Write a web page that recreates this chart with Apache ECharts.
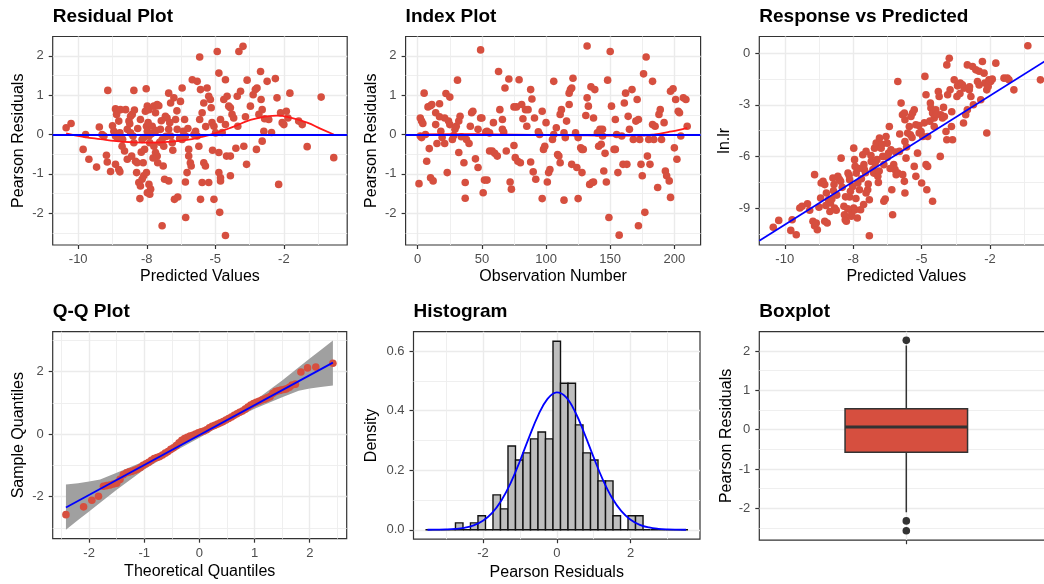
<!DOCTYPE html>
<html><head><meta charset="utf-8">
<script src="https://cdn.jsdelivr.net/npm/echarts@6/dist/echarts.min.js"></script>
<style>html,body{margin:0;padding:0;background:#fff}#c{width:1044px;height:584px}</style>
</head><body><div id="c"></div>
<script>
// ---------------- DATA ----------------
const panelTitles = ['Residual Plot','Index Plot','Response vs Predicted','Q-Q Plot','Histogram','Boxplot'];

// Residual plot: [predicted, pearson residual]
const residualPoints = [[-10.44,0.17],[-10.26,0.28],[-9.73,0.00],[-9.82,-0.38],[-9.61,-0.63],[-9.33,-0.83],[-9.23,0.19],[-9.13,0.00],[-9.06,-0.04],[-8.92,1.12],[-8.97,-0.53],[-8.94,-0.70],[-8.82,-0.94],[-8.64,-0.76],[-8.52,-0.89],[-8.48,-0.95],[-8.64,0.65],[-8.58,0.59],[-8.60,0.51],[-8.52,0.34],[-8.46,0.63],[-8.27,0.63],[-8.70,0.08],[-8.64,-0.04],[-8.58,-0.08],[-8.48,0.04],[-8.40,-0.30],[-8.31,-0.42],[-8.21,-0.63],[-8.15,0.34],[-8.09,0.46],[-8.03,0.51],[-8.21,0.13],[-8.09,0.04],[-8.00,-0.04],[-7.97,-0.21],[-7.97,1.12],[-7.91,-0.68],[-7.85,-0.72],[-7.87,-0.97],[-7.79,-1.22],[-7.73,-1.31],[-7.75,-1.63],[-7.67,-1.14],[-7.61,-1.05],[-7.51,-0.97],[-7.73,0.38],[-7.67,-0.13],[-7.61,-0.08],[-7.55,0.59],[-7.48,0.72],[-7.42,0.63],[-7.51,0.21],[-7.48,0.08],[-7.42,-0.04],[-7.39,-0.21],[-7.52,1.16],[-7.42,-1.27],[-7.36,-1.39],[-7.48,-1.48],[-7.39,-1.52],[-7.24,0.72],[-7.18,0.55],[-7.30,0.21],[-7.24,-0.30],[-7.18,-0.46],[-7.12,-0.55],[-7.10,-0.72],[-7.12,0.76],[-7.06,0.73],[-7.00,0.13],[-6.94,-0.13],[-6.88,-0.30],[-6.90,-0.80],[-6.85,-1.14],[-6.94,-2.32],[-6.82,0.46],[-6.76,0.42],[-6.70,0.13],[-6.63,-0.04],[-6.57,-0.21],[-6.70,-1.18],[-6.70,1.05],[-6.63,0.80],[-6.51,0.93],[-6.45,0.38],[-6.39,0.13],[-6.27,0.84],[-6.21,-0.13],[-6.09,-0.04],[-6.49,-1.65],[-6.37,-1.59],[-6.21,1.18],[-6.17,0.08],[-6.12,0.38],[-6.09,-1.21],[-6.08,-2.11],[-6.03,-0.97],[-5.97,-0.55],[-5.97,-0.38],[-5.91,-0.72],[-5.84,1.39],[-5.66,1.35],[-5.57,1.97],[-5.54,1.14],[-5.78,0.00],[-5.72,0.08],[-5.66,-0.04],[-5.60,-0.30],[-5.54,-1.65],[-5.48,-1.22],[-5.42,-0.72],[-5.36,-0.80],[-5.57,0.38],[-5.48,0.55],[-5.42,0.80],[-5.30,1.18],[-5.24,0.97],[-5.24,-1.22],[-5.18,0.89],[-5.15,0.68],[-5.12,0.30],[-5.05,0.21],[-5.05,-1.65],[-4.99,0.04],[-4.93,2.11],[-4.87,1.56],[-4.81,0.38],[-4.87,-0.46],[-4.87,-0.97],[-4.81,-1.10],[-4.81,-1.18],[-4.84,-1.98],[-4.69,0.89],[-4.63,0.25],[-4.63,-2.57],[-4.63,1.39],[-4.57,0.97],[-4.59,-0.55],[-4.51,0.72],[-4.45,0.68],[-4.45,-0.55],[-4.45,-1.05],[-4.39,0.51],[-4.33,0.42],[-4.20,0.97],[-4.14,2.11],[-4.08,1.10],[-3.99,2.24],[-4.18,0.21],[-3.96,-0.30],[-3.86,-0.76],[-3.84,1.38],[-3.72,0.72],[-3.62,1.01],[-3.54,1.14],[-3.48,1.18],[-3.41,0.51],[-3.50,-0.38],[-3.35,1.60],[-3.33,0.89],[-3.29,0.63],[-3.29,-0.17],[-3.23,0.08],[-3.11,1.35],[-3.05,0.38],[-2.81,1.42],[-2.75,0.93],[-2.69,-1.27],[-2.62,0.55],[-2.56,0.30],[-2.50,0.25],[-2.41,0.59],[-2.28,1.05],[-1.96,0.34],[-1.83,0.25],[-1.65,-0.31],[-1.14,0.95],[-0.68,-0.59],
[-8.75,0.22],[-8.38,-0.12],[-8.12,0.27],[-7.95,0.62],[-7.83,0.15],[-7.70,-0.45],[-7.58,-0.38],[-7.45,0.30],[-7.33,0.02],[-7.27,-0.60],[-7.15,0.10],[-7.03,-0.20],[-6.97,0.35],[-6.80,-0.05],[-6.66,0.30],[-6.55,-0.40],[-6.30,-0.10],[-6.00,0.15],[-5.88,-0.80],[-5.35,0.20],[-5.10,-0.40],[-4.75,0.05],[-4.25,-0.35],[-3.90,0.45],[-3.20,0.40],[-2.95,0.05],[-2.35,0.42],[-8.05,-0.55],[-7.63,-0.72],[-6.40,0.60]];
// Loess curve through residual plot
const residSmooth = [[-10.44,0.03],[-9.8,-0.06],[-9.19,-0.12],[-8.6,-0.17],[-7.97,-0.20],[-7.36,-0.21],[-6.76,-0.19],[-6.03,-0.14],[-5.54,-0.07],[-5.05,0.02],[-4.33,0.20],[-3.72,0.37],[-3.11,0.46],[-2.75,0.48],[-2.26,0.43],[-1.65,0.30],[-1.17,0.15],[-0.68,0.0]];

// Index plot: [observation number, pearson residual]
const indexPoints = [[1,-1.25],[2,0.42],[3,0.34],[4,0.28],[2,-0.04],[3,-0.08],[5,1.05],[6,0.00],[7,-0.68],[8,0.70],[9,-0.36],[10,0.73],[11,0.76],[10,-1.10],[12,-1.18],[14,0.55],[14,0.25],[15,-0.23],[17,0.78],[17,0.45],[18,0.08],[19,-0.08],[21,-0.23],[21,0.42],[22,1.04],[23,-0.97],[24,0.34],[25,0.95],[25,0.25],[27,-0.13],[28,-0.03],[29,0.13],[30,0.21],[31,1.38],[32,0.34],[33,0.46],[32,-0.46],[34,-0.06],[36,-0.72],[37,-1.22],[37,-1.62],[38,-0.13],[40,-0.23],[41,0.21],[42,0.55],[43,0.59],[45,-0.62],[47,0.13],[47,-0.84],[49,2.15],[49,0.42],[50,0.42],[51,-1.48],[52,-1.16],[54,-1.16],[53,0.06],[54,0.08],[56,0.04],[56,-0.42],[58,-0.42],[59,0.30],[60,-0.48],[62,-0.55],[63,1.60],[64,0.63],[66,0.13],[66,0.38],[67,0.06],[68,1.18],[69,-0.42],[71,1.41],[72,-1.21],[73,-1.39],[75,-0.28],[75,0.70],[77,0.70],[76,-0.59],[78,-0.68],[80,-0.72],[79,1.39],[81,0.76],[82,0.40],[84,0.63],[85,0.21],[86,0.63],[88,1.14],[89,0.90],[88,-0.70],[90,-0.95],[91,0.42],[92,-1.14],[94,0.07],[95,0.00],[97,0.59],[97,-1.63],[98,-0.38],[99,-0.30],[100,0.30],[101,-1.21],[102,-0.97],[103,-0.89],[105,-0.13],[106,0.00],[106,1.35],[108,0.17],[109,-0.51],[110,-0.55],[111,-0.72],[111,0.51],[112,0.63],[114,0.04],[115,-0.08],[114,-1.67],[116,0.34],[118,1.05],[119,1.14],[120,1.18],[118,0.76],[120,-0.76],[121,1.43],[123,0.04],[124,-0.84],[125,-1.63],[125,-0.08],[127,-0.34],[128,-0.38],[128,-0.97],[129,-0.38],[131,0.48],[132,0.93],[132,2.25],[133,0.72],[134,-1.27],[136,-1.22],[135,1.21],[137,-1.21],[137,0.42],[138,1.14],[140,0.04],[141,-0.30],[142,0.13],[144,-0.04],[143,-0.25],[144,0.13],[145,-0.93],[146,-0.48],[147,-1.21],[148,1.38],[150,2.11],[149,-2.11],[151,0.72],[153,-0.38],[154,-0.38],[154,0.38],[155,0.00],[156,-0.97],[157,-2.56],[159,-0.04],[160,-0.76],[161,0.80],[162,1.05],[163,-0.76],[164,0.46],[165,0.13],[167,1.14],[168,-0.13],[170,0.34],[171,0.89],[172,0.38],[172,-2.32],[173,-0.13],[174,-0.76],[175,-1.05],[176,1.54],[177,-1.98],[178,1.97],[179,-0.55],[180,-0.13],[181,-0.76],[183,1.35],[183,0.25],[184,-0.13],[185,0.21],[187,-1.35],[188,0.51],[189,0.63],[190,-0.13],[192,0.30],[193,-0.93],[194,-1.05],[196,-1.18],[197,1.10],[197,-1.60],[199,1.16],[200,-0.34],[201,0.89],[202,-0.63],[203,0.59],[204,0.55],[205,-0.04],[207,0.93],[209,0.89],[210,0.21]];
const indexSmooth = [[1,0.0],[30,0.01],[60,0.0],[90,-0.01],[120,-0.02],[150,-0.03],[170,-0.03],[185,0.0],[195,0.06],[203,0.11],[210,0.17]];

// Response vs predicted: [predicted, ln.lr]
const responsePoints = [[-10.42,-10.12],[-10.22,-9.72],[-9.73,-9.68],[-9.78,-10.30],[-9.58,-10.55],[-9.45,-9.00],[-9.37,-8.90],[-9.17,-8.75],[-9.09,-9.13],[-8.91,-7.06],[-8.97,-9.77],[-8.91,-10.03],[-8.81,-10.26],[-8.85,-9.87],[-8.69,-8.42],[-8.67,-7.55],[-8.60,-7.45],[-8.54,-7.64],[-8.48,-8.13],[-8.54,-9.77],[-8.45,-9.87],[-8.40,-8.52],[-8.33,-8.71],[-8.28,-8.48],[-8.24,-7.26],[-8.20,-7.64],[-8.18,-9.00],[-8.12,-9.13],[-8.06,-7.16],[-8.00,-7.35],[-7.96,-7.45],[-7.94,-6.10],[-7.84,-8.90],[-7.82,-9.39],[-7.79,-9.68],[-7.75,-9.77],[-7.69,-6.97],[-7.63,-7.35],[-7.60,-8.03],[-7.63,-8.36],[-7.57,-9.48],[-7.55,-9.29],[-7.48,-5.52],[-7.45,-6.19],[-7.43,-6.58],[-7.39,-6.97],[-7.33,-7.55],[-7.27,-7.94],[-7.48,-9.00],[-7.43,-9.10],[-7.35,-9.58],[-7.23,-9.10],[-7.15,-5.90],[-7.11,-6.48],[-7.09,-6.77],[-7.03,-5.71],[-7.03,-8.13],[-6.97,-7.94],[-6.91,-8.52],[-6.91,-10.61],[-6.84,-6.29],[-6.78,-6.77],[-6.75,-6.97],[-6.72,-5.52],[-6.66,-5.23],[-6.63,-6.19],[-6.60,-7.16],[-6.58,-7.51],[-6.54,-4.94],[-6.48,-5.52],[-6.42,-6.00],[-6.38,-6.48],[-6.38,-8.61],[-6.33,-8.48],[-6.30,-4.84],[-6.26,-5.23],[-6.21,-5.81],[-6.18,-4.26],[-6.12,-5.61],[-6.09,-7.94],[-6.06,-9.39],[-6.02,-6.48],[-5.97,-6.77],[-5.93,-7.06],[-5.87,-6.97],[-5.81,-5.71],[-5.87,-1.65],[-5.75,-2.90],[-5.70,-3.58],[-5.63,-3.48],[-5.61,-3.87],[-5.69,-7.06],[-5.63,-7.45],[-5.61,-8.13],[-5.61,-5.13],[-5.57,-6.10],[-5.51,-4.64],[-5.45,-4.26],[-5.41,-4.74],[-5.39,-3.68],[-5.33,-3.48],[-5.27,-3.29],[-5.21,-4.16],[-5.27,-6.58],[-5.21,-7.16],[-5.15,-5.81],[-5.09,-4.64],[-5.02,-4.55],[-5.00,-7.55],[-4.96,-4.84],[-4.88,-1.35],[-4.84,-2.42],[-4.84,-6.48],[-4.78,-6.58],[-4.81,-7.94],[-4.78,-4.84],[-4.68,-2.90],[-4.66,-3.19],[-4.60,-3.48],[-4.54,-3.77],[-4.48,-3.29],[-4.60,-8.61],[-4.54,-4.26],[-4.39,-2.23],[-4.36,-2.52],[-4.32,-6.00],[-4.30,-3.58],[-4.24,-3.77],[-4.17,-3.68],[-4.11,-4.55],[-4.08,-5.03],[-4.08,-0.68],[-3.99,-0.29],[-4.05,-2.42],[-3.96,-2.13],[-3.91,-4.26],[-3.87,-5.03],[-3.81,-1.55],[-3.71,-2.52],[-3.69,-1.90],[-3.59,-1.74],[-3.51,-1.84],[-3.45,-2.03],[-3.47,-4.06],[-3.39,-3.58],[-3.33,-3.29],[-3.33,-0.68],[-3.14,-0.77],[-3.26,-2.13],[-3.20,-2.52],[-3.11,-3.00],[-3.02,-0.97],[-2.96,-1.65],[-2.90,-1.05],[-2.84,-2.71],[-2.78,-0.48],[-2.72,-1.16],[-2.69,-1.74],[-2.62,-4.64],[-2.62,-2.13],[-2.57,-1.94],[-2.54,-1.55],[-2.48,-1.65],[-2.42,-1.51],[-2.29,-0.58],[-1.99,-1.45],[-1.87,-1.45],[-1.81,-1.55],[-1.63,-2.13],[-1.12,0.43],[-0.66,-1.55],
[-8.75,-8.95],[-8.50,-8.85],[-8.35,-9.20],[-8.10,-8.25],[-7.90,-7.80],[-7.78,-8.35],[-7.65,-7.10],[-7.52,-7.75],[-7.40,-8.45],[-7.30,-6.70],[-7.20,-7.30],[-7.05,-6.95],[-6.95,-7.60],[-6.85,-5.95],[-6.70,-6.40],[-6.55,-6.85],[-6.45,-5.30],[-6.25,-6.05],[-6.15,-6.70],[-5.95,-5.75],[-5.80,-4.70],[-5.55,-5.45],[-5.35,-4.90],[-5.10,-4.20],[-4.90,-4.05],[-4.70,-3.95],[-4.45,-3.55],[-4.20,-3.15],[-3.90,-3.40],[-3.60,-2.35],[-3.25,-1.95],[-2.90,-1.85],[-7.70,-9.05],[-8.22,-8.00],[-7.12,-8.80]];
const responseFit = {intercept: 0.03, slope: 1.0};

// Q-Q plot: [theoretical quantile, sample quantile]
const qqPoints = [[-2.42,-2.58],[-2.10,-2.33],[-1.95,-2.12],[-1.83,-1.99],[-1.74,-1.67],[-1.68,-1.65],[-1.62,-1.63],[-1.56,-1.60],[-1.50,-1.57],[-1.44,-1.45],[-1.38,-1.30],[-1.32,-1.24],[-1.27,-1.21],[-1.22,-1.19],[-1.17,-1.16],[-1.12,-1.12],[-1.07,-1.07],[-1.02,-1.00],[-0.97,-0.95],[-0.92,-0.90],[-0.87,-0.84],[-0.82,-0.78],[-0.77,-0.75],[-0.72,-0.72],[-0.67,-0.67],[-0.62,-0.61],[-0.57,-0.56],[-0.52,-0.49],[-0.47,-0.44],[-0.42,-0.37],[-0.37,-0.28],[-0.32,-0.20],[-0.27,-0.14],[-0.22,-0.10],[-0.17,-0.06],[-0.12,-0.04],[-0.07,0.00],[-0.02,0.04],[0.03,0.07],[0.08,0.10],[0.13,0.14],[0.18,0.20],[0.23,0.25],[0.28,0.28],[0.33,0.32],[0.38,0.36],[0.43,0.40],[0.48,0.45],[0.53,0.50],[0.58,0.55],[0.63,0.60],[0.68,0.65],[0.73,0.70],[0.78,0.74],[0.83,0.80],[0.88,0.87],[0.93,0.93],[0.98,0.98],[1.03,1.02],[1.08,1.05],[1.13,1.09],[1.18,1.12],[1.23,1.16],[1.28,1.20],[1.33,1.30],[1.38,1.36],[1.43,1.39],[1.48,1.41],[1.53,1.43],[1.58,1.45],[1.63,1.50],[1.68,1.57],[1.74,1.60],[1.84,1.99],[1.96,2.12],[2.11,2.15],[2.42,2.27]];
const qqLine = [[-2.42,-2.35],[2.42,2.29]];
const qqBandX    = [-2.42,-2.2,-2.0,-1.8,-1.5,-1.0,-0.5,0,0.5,1.0,1.5,1.8,2.0,2.2,2.42];
const qqBandLow  = [-3.06,-2.75,-2.48,-2.2,-1.78,-1.13,-0.60,-0.12,0.38,0.81,1.18,1.39,1.46,1.51,1.555];
const qqBandHigh = [-1.615,-1.57,-1.52,-1.45,-1.24,-0.87,-0.44,0.04,0.54,1.07,1.72,2.14,2.42,2.69,3.0];

// Histogram of residuals (density per bin)
const histBinStart = -3.556;
const histBinWidth = 0.2032;
const histDensity = [0,0,0,0,0.023,0,0.023,0.047,0,0.117,0.070,0.281,0.234,0.258,0.305,0.328,0.305,0.633,0.492,0.492,0.352,0.258,0.234,0.164,0.164,0.047,0,0.047,0.047,0,0,0,0,0,0];
const normalCurveX = [-3.5,-3.25,-3,-2.75,-2.5,-2.25,-2,-1.75,-1.5,-1.25,-1,-0.75,-0.5,-0.25,0,0.25,0.5,0.75,1,1.25,1.5,1.75,2,2.25,2.5,2.75,3,3.25,3.5];
const normalCurveY = [0.0001,0.0004,0.0010,0.0027,0.0066,0.0147,0.0302,0.0569,0.0985,0.1569,0.2301,0.3104,0.3850,0.4393,0.4611,0.4452,0.3954,0.3230,0.2428,0.1678,0.1067,0.0624,0.0336,0.0166,0.0076,0.0032,0.0012,0.0004,0.0001];

// Boxplot: [lower whisker, Q1, median, Q3, upper whisker]
const boxStats = [-2.10, -0.575, 0.068, 0.533, 2.14];
const boxOutliers = [-2.57, -2.32, 2.27];

// Axis ticks and labels
const predTicks = [-10,-7.5,-5,-2.5], predLabels = ['-10','-8','-5','-2'], predMinor = [-8.75,-6.25,-3.75,-1.25];
const residTicks = [-2,-1,0,1,2], residLabels = ['-2','-1','0','1','2'], residMinor = [-2.5,-1.5,-0.5,0.5,1.5];
const obsTicks = [0,50,100,150,200], obsLabels = ['0','50','100','150','200'], obsMinor = [25,75,125,175];
const lnTicks = [-9,-6,-3,0], lnLabels = ['-9','-6','-3','0'], lnMinor = [-10.5,-7.5,-4.5,-1.5];
const qqXTicks = [-2,-1,0,1,2], qqXLabels = ['-2','-1','0','1','2'], qqXMinor = [-2.5,-1.5,-0.5,0.5,1.5,2.5];
const qqYTicks = [-2,0,2], qqYLabels = ['-2','0','2'], qqYMinor = [-3,-1,1,3];
const hXTicks = [-2,0,2], hXLabels = ['-2','0','2'], hXMinor = [-3,-1,1,3];
const hYTicks = [0,0.2,0.4,0.6], hYLabels = ['0.0','0.2','0.4','0.6'], hYMinor = [0.1,0.3,0.5];

// ---------------- CHART ----------------
const FONT = '"Liberation Sans", Arial, Helvetica, sans-serif';
const RED = '#D64F3F', BLUE = '#0000FF', LINERED = '#FF1A1A';

const grids = [
  {left:52.7, top:36.5, width:294.5, height:208.5},
  {left:405.6, top:36.5, width:295, height:208.5},
  {left:759.3, top:36.5, width:294, height:208.5},
  {left:52.7, top:331.7, width:294, height:207},
  {left:413.5, top:331.7, width:286.5, height:207.5},
  {left:759.3, top:331.7, width:294, height:208.5}
].map(g => Object.assign({show:true, borderColor:'#333333', borderWidth:1.2, backgroundColor:'#ffffff', containLabel:false, outerBoundsMode:'none'}, g));

function fmtFrom(ticks, labels){
  return v => { for (let i=0;i<ticks.length;i++) if (Math.abs(ticks[i]-v)<1e-9) return labels[i]; return ''; };
}
function majorAxis(dim, g, min, max, ticks, labels, name, gap){
  const isX = dim === 'x';
  return {
    type:'value', gridIndex:g, min:min, max:max, position: isX ? 'bottom' : 'left',
    axisLine:{show:false, onZero:false},
    axisTick:{show:true, customValues:ticks, length:4, lineStyle:{color:'#333333', width:1.2}},
    axisLabel:{show: !!labels, customValues:ticks, formatter: labels ? fmtFrom(ticks, labels) : () => '',
      color:'#4D4D4D', fontSize:13, fontFamily:FONT, margin: isX ? 8 : 9},
    splitLine:{show:true, lineStyle:{color:'#EBEBEB', width:1.4}},
    minorTick:{show:false}, minorSplitLine:{show:false},
    name:name, nameLocation:'middle', nameGap:gap, nameMoveOverlap:false,
    nameTextStyle:{color:'#000000', fontSize:16, fontFamily:FONT},
    silent:true
  };
}
function minorAxis(dim, g, min, max, ticks){
  return {
    type:'value', gridIndex:g, min:min, max:max, position: dim === 'x' ? 'top' : 'right',
    axisLine:{show:false, onZero:false},
    axisTick:{show:false, customValues:ticks},
    axisLabel:{show:false, customValues:ticks},
    splitLine:{show:true, lineStyle:{color:'#EDEDED', width:0.9}},
    silent:true
  };
}

const P1X = [-10.93,-0.19], RESY = [-2.81, 2.49];
const P2X = [-9.45, 220.45];
const P3Y = [-11.15, 0.97];
const QQX = [-2.66, 2.67], QQY = [-3.35, 3.28];
const HX = [-3.88, 3.88], HY = [-0.0317, 0.665];
const BX = [0.4, 1.6];

const xAxes = [
  majorAxis('x',0,P1X[0],P1X[1],predTicks,predLabels,'Predicted Values',24), minorAxis('x',0,P1X[0],P1X[1],predMinor),
  majorAxis('x',1,P2X[0],P2X[1],obsTicks,obsLabels,'Observation Number',24), minorAxis('x',1,P2X[0],P2X[1],obsMinor),
  majorAxis('x',2,P1X[0],P1X[1],predTicks,predLabels,'Predicted Values',24), minorAxis('x',2,P1X[0],P1X[1],predMinor),
  majorAxis('x',3,QQX[0],QQX[1],qqXTicks,qqXLabels,'Theoretical Quantiles',25), minorAxis('x',3,QQX[0],QQX[1],qqXMinor),
  majorAxis('x',4,HX[0],HX[1],hXTicks,hXLabels,'Pearson Residuals',25), minorAxis('x',4,HX[0],HX[1],hXMinor),
  majorAxis('x',5,BX[0],BX[1],[1],null,'',24), minorAxis('x',5,BX[0],BX[1],[])
];
const yAxes = [
  majorAxis('y',0,RESY[0],RESY[1],residTicks,residLabels,'Pearson Residuals',26), minorAxis('y',0,RESY[0],RESY[1],residMinor),
  majorAxis('y',1,RESY[0],RESY[1],residTicks,residLabels,'Pearson Residuals',26), minorAxis('y',1,RESY[0],RESY[1],residMinor),
  majorAxis('y',2,P3Y[0],P3Y[1],lnTicks,lnLabels,'ln.lr',27), minorAxis('y',2,P3Y[0],P3Y[1],lnMinor),
  majorAxis('y',3,QQY[0],QQY[1],qqYTicks,qqYLabels,'Sample Quantiles',26), minorAxis('y',3,QQY[0],QQY[1],qqYMinor),
  majorAxis('y',4,HY[0],HY[1],hYTicks,hYLabels,'Density',34), minorAxis('y',4,HY[0],HY[1],hYMinor),
  majorAxis('y',5,RESY[0],RESY[1],residTicks,residLabels,'Pearson Residuals',25), minorAxis('y',5,RESY[0],RESY[1],residMinor)
];

const titleTops = [7,7,7,302.5,302.5,302.5];
const titles = panelTitles.map((t,i) => ({
  text:t, left:grids[i].left, top:titleTops[i], padding:0,
  textStyle:{fontFamily:FONT, fontSize:19, fontWeight:'bold', color:'#000000'}
}));

function scatter(g, data, color){
  return {type:'scatter', xAxisIndex:2*g, yAxisIndex:2*g, data:data, symbol:'circle', symbolSize:7.6,
    itemStyle:{color:color, opacity:1}, silent:true, clip:true};
}
function line(g, data, color, smooth){
  return {type:'line', xAxisIndex:2*g, yAxisIndex:2*g, data:data, symbol:'none', smooth:smooth,
    lineStyle:{color:color, width:1.8}, silent:true, clip:true};
}
const hline0 = {silent:true, symbol:'none', label:{show:false}, animation:false,
  lineStyle:{color:BLUE, width:1.8, type:'solid'}, data:[{yAxis:0}]};

const s1Smooth = line(0, residSmooth, LINERED, 0.5);
s1Smooth.markLine = hline0;
const s2Scatter = scatter(1, indexPoints, RED);
s2Scatter.markLine = hline0;

const abline = [[P1X[0], responseFit.intercept + responseFit.slope*P1X[0]], [P1X[1], responseFit.intercept + responseFit.slope*P1X[1]]];

const histData = histDensity.map((d,i) => [histBinStart + i*histBinWidth, histBinStart + (i+1)*histBinWidth, d]);

const series = [
  scatter(0, residualPoints, RED),
  s1Smooth,
  s2Scatter,
  line(1, indexSmooth, LINERED, 0.5),
  scatter(2, responsePoints, RED),
  line(2, abline, BLUE, false),
  {
    type:'custom', xAxisIndex:6, yAxisIndex:6, silent:true, clip:true,
    data: qqBandX.map((x,i) => [x, qqBandLow[i], qqBandHigh[i]]),
    encode:{x:0, y:[1,2]},
    renderItem: function(params, api){
      if (params.dataIndex !== 0) return null;
      const pts = [];
      for (let i=0;i<qqBandX.length;i++) pts.push(api.coord([qqBandX[i], qqBandHigh[i]]));
      for (let i=qqBandX.length-1;i>=0;i--) pts.push(api.coord([qqBandX[i], qqBandLow[i]]));
      return {type:'polygon', shape:{points:pts}, style:{fill:'#A0A0A0'}};
    }
  },
  scatter(3, qqPoints, RED),
  line(3, qqLine, BLUE, false),
  {
    type:'custom', xAxisIndex:8, yAxisIndex:8, silent:true, clip:true,
    data: histData, encode:{x:[0,1], y:2},
    renderItem: function(params, api){
      const a = api.coord([api.value(0), api.value(2)]);
      const b = api.coord([api.value(1), 0]);
      return {type:'rect', shape:{x:a[0], y:a[1], width:b[0]-a[0], height:b[1]-a[1]},
        style:{fill:'#BEBEBE', stroke:'#111111', lineWidth:1.4}};
    }
  },
  line(4, normalCurveX.map((x,i) => [x, normalCurveY[i]]), BLUE, 0.4),
  {
    type:'custom', xAxisIndex:10, yAxisIndex:10, silent:true, clip:true,
    data: [[1].concat(boxStats)], encode:{x:0, y:[1,2,3,4,5]},
    renderItem: function(params, api){
      const x = api.value(0), lw = api.value(1), q1 = api.value(2), med = api.value(3), q3 = api.value(4), uw = api.value(5);
      const half = 0.25;
      const tl = api.coord([x-half, q3]), br = api.coord([x+half, q1]);
      const cTop = api.coord([x, uw]), cQ3 = api.coord([x, q3]), cQ1 = api.coord([x, q1]), cBot = api.coord([x, lw]);
      const mL = api.coord([x-half, med]), mR = api.coord([x+half, med]);
      const st = {stroke:'#333333', lineWidth:1.5};
      return {type:'group', children:[
        {type:'line', shape:{x1:cTop[0], y1:cTop[1], x2:cQ3[0], y2:cQ3[1]}, style:st},
        {type:'line', shape:{x1:cQ1[0], y1:cQ1[1], x2:cBot[0], y2:cBot[1]}, style:st},
        {type:'rect', shape:{x:tl[0], y:tl[1], width:br[0]-tl[0], height:br[1]-tl[1]}, style:{fill:RED, stroke:'#333333', lineWidth:1.5}},
        {type:'line', shape:{x1:mL[0], y1:mL[1], x2:mR[0], y2:mR[1]}, style:{stroke:'#333333', lineWidth:3.2}}
      ]};
    }
  },
  scatter(5, boxOutliers.map(v => [1, v]), '#333333')
];

const chart = echarts.init(document.getElementById('c'), null, {renderer:'canvas', width:1044, height:584});
chart.setOption({
  animation:false,
  backgroundColor:'#ffffff',
  title: titles,
  grid: grids,
  xAxis: xAxes,
  yAxis: yAxes,
  series: series
});
</script></body></html>
